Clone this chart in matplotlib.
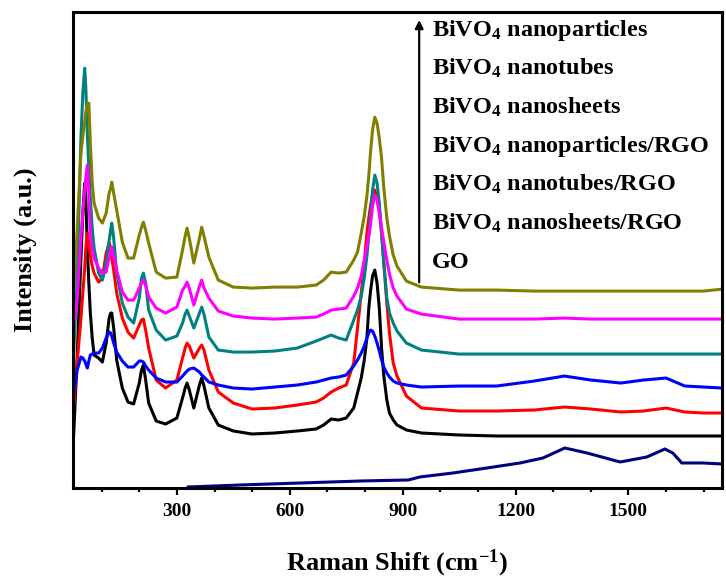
import matplotlib
matplotlib.use('Agg')
import matplotlib.pyplot as plt
from matplotlib.ticker import MultipleLocator

plt.rcParams['font.family'] = ['Liberation Serif', 'DejaVu Serif']
plt.rcParams['font.weight'] = 'bold'
plt.rcParams['mathtext.fontset'] = 'custom'
plt.rcParams['mathtext.rm'] = 'Liberation Serif:bold'
plt.rcParams['mathtext.default'] = 'regular'

# Raman shift grid (cm-1) shared by the BiVO4 spectra
shift = [25, 35, 45, 50, 55, 58, 62, 66, 70, 75, 80, 92, 102, 112, 120, 124, 127, 132,
         140, 155, 170, 185, 200, 206, 211, 217, 225, 245, 270, 300, 315, 322, 327,
         333, 345, 360, 366, 372, 385, 410, 450, 500, 560, 620, 670, 690, 710, 730,
         750, 770, 780, 790, 798, 805, 810, 815, 820, 826, 832, 838, 844, 850, 858,
         865, 875, 885, 910, 950, 1050, 1150, 1250, 1330, 1400, 1480, 1540, 1600,
         1650, 1700, 1750]

# stacked intensities (a.u.)
np_bivo4 = [193, 258, 335, 352, 366, 376, 385, 385, 345, 305, 285, 270, 265, 275, 295, 300, 306, 295,
            278, 246, 230, 230, 253, 261, 266, 258, 245, 216, 210, 211, 238, 252, 260,
            250, 225, 250, 261, 252, 231, 208, 201, 200, 201, 201, 203, 208, 216, 215,
            216, 228, 236, 255, 272, 292, 312, 338, 358, 371, 365, 350, 330, 300, 270,
            252, 233, 222, 207, 201, 198, 198, 197, 197, 197, 197, 197, 197,
            197, 197, 199]
nt_bivo4 = [161, 188, 251, 275, 298, 310, 323, 295, 251, 238, 230, 220, 215, 216, 231, 238, 241, 232,
            218, 196, 188, 188, 200, 205, 208, 203, 191, 180, 175, 181, 198, 202, 206,
            200, 183, 202, 208, 200, 190, 177, 172, 170, 169, 170, 171, 174, 178, 179,
            180, 192, 200, 212, 228, 242, 252, 265, 282, 293, 288, 275, 260, 246, 228,
            214, 200, 192, 179, 174, 169, 169, 169, 170, 169, 169, 169, 169,
            169, 169, 169]
ns_bivo4 = [128, 210, 350, 395, 420, 400, 355, 320, 290, 260, 240, 215, 208, 225, 248, 258, 265, 250,
            215, 185, 171, 165, 190, 210, 215, 205, 178, 158, 148, 152, 165, 174, 178,
            172, 160, 175, 181, 174, 151, 138, 136, 136, 137, 140, 147, 150, 153, 150,
            148, 168, 178, 192, 210, 232, 252, 275, 298, 313, 305, 285, 255, 225, 190,
            175, 165, 157, 145, 138, 134, 134, 134, 134, 134, 134, 134, 134,
            134, 134, 134]
np_rgo = [91, 118, 131, 130, 127, 124, 120, 127, 133, 134, 135, 135, 140, 150, 156, 155, 152, 145,
          136, 127, 121, 121, 127, 127, 126, 122, 118, 110, 106, 106, 112, 115, 117,
          119, 120, 116, 113, 111, 106, 103, 100, 99, 101, 103, 106, 108, 110, 111,
          113, 122, 128, 135, 142, 150, 155, 158, 157, 152, 145, 137, 128, 121, 115,
          111, 107, 105, 103, 101, 102, 102, 107, 112, 108, 105, 108, 110,
          102, 101, 100]
nt_rgo = [78, 125, 170, 195, 220, 240, 255, 245, 232, 222, 215, 206, 210, 235, 245, 240, 230, 218,
          195, 170, 156, 150, 163, 168, 169, 158, 140, 108, 100, 108, 130, 140, 145,
          142, 130, 140, 143, 138, 118, 96, 85, 79, 80, 83, 86, 90, 96, 100,
          103, 125, 160, 195, 225, 255, 270, 283, 294, 298, 290, 278, 255, 225, 185,
          155, 125, 112, 92, 80, 77, 77, 78, 81, 79, 76, 77, 80,
          76, 75, 75]
ns_rgo = [48, 130, 230, 275, 305, 290, 240, 205, 175, 150, 133, 130, 126, 145, 170, 175, 175, 160,
          128, 100, 86, 84, 105, 118, 123, 108, 85, 67, 64, 70, 90, 100, 105,
          98, 80, 103, 110, 102, 80, 63, 57, 54, 55, 57, 59, 63, 69, 68,
          70, 80, 95, 110, 128, 150, 180, 198, 212, 218, 205, 180, 140, 112, 88,
          75, 68, 63, 58, 55, 53, 52, 52, 52, 52, 52, 52, 52,
          52, 52, 52]

go_shift = [330, 470, 630, 790, 915, 946, 1034, 1124, 1212, 1273, 1331, 1390, 1478,
            1549, 1597, 1618, 1642, 1698, 1749]
go = [1, 3, 5, 7, 8, 11, 15, 20, 25, 30, 40, 35, 26, 31, 39, 35, 25, 25, 24]

labels = ['BiVO$_4$ nanoparticles', 'BiVO$_4$ nanotubes', 'BiVO$_4$ nanosheets',
          'BiVO$_4$ nanoparticles/RGO', 'BiVO$_4$ nanotubes/RGO',
          'BiVO$_4$ nanosheets/RGO', 'GO']
series = [np_bivo4, nt_bivo4, ns_bivo4, np_rgo, nt_rgo, ns_rgo]
colors = ['#808000', '#ff00ff', '#008080', '#0000ff', '#ff0000', '#000000', '#000080']

fig = plt.figure(figsize=(7.26, 5.83), dpi=100)
ax = fig.add_axes([0.1006, 0.163, 0.894, 0.816])

for ys, c in zip(series[::-1], colors[5::-1]):
    ax.plot(shift, ys, color=c, lw=2.2)
ax.plot(go_shift, go, color=colors[6], lw=2.2)

# arrow through the label column
ax.annotate('', xy=(944, 471), xytext=(944, 203),
            arrowprops=dict(arrowstyle='-|>', color='black', lw=1.6, mutation_scale=12))

for i, lab in enumerate(labels):
    ax.text(0.553, 0.9496 - i * 0.0813, lab, transform=ax.transAxes,
            ha='left', va='baseline', fontsize=17.5, fontweight='bold')

ax.set_xlim(24, 1749)
ax.set_ylim(0, 476)
ax.set_yticks([])
ax.xaxis.set_major_locator(MultipleLocator(300))
ax.xaxis.set_minor_locator(MultipleLocator(100))
ax.tick_params(axis='x', which='major', length=5, width=1.6, labelsize=14, pad=6)
ax.tick_params(axis='x', which='minor', length=3, width=1.6)
for s in ax.spines.values():
    s.set_linewidth(2.2)

ax.set_xlabel('Raman Shift (cm$^{-1}$)', fontsize=19, fontweight='bold', labelpad=20)
ax.set_ylabel('Intensity (a.u.)', fontsize=19, fontweight='bold', labelpad=26)

fig.savefig('out.png', dpi=100)
